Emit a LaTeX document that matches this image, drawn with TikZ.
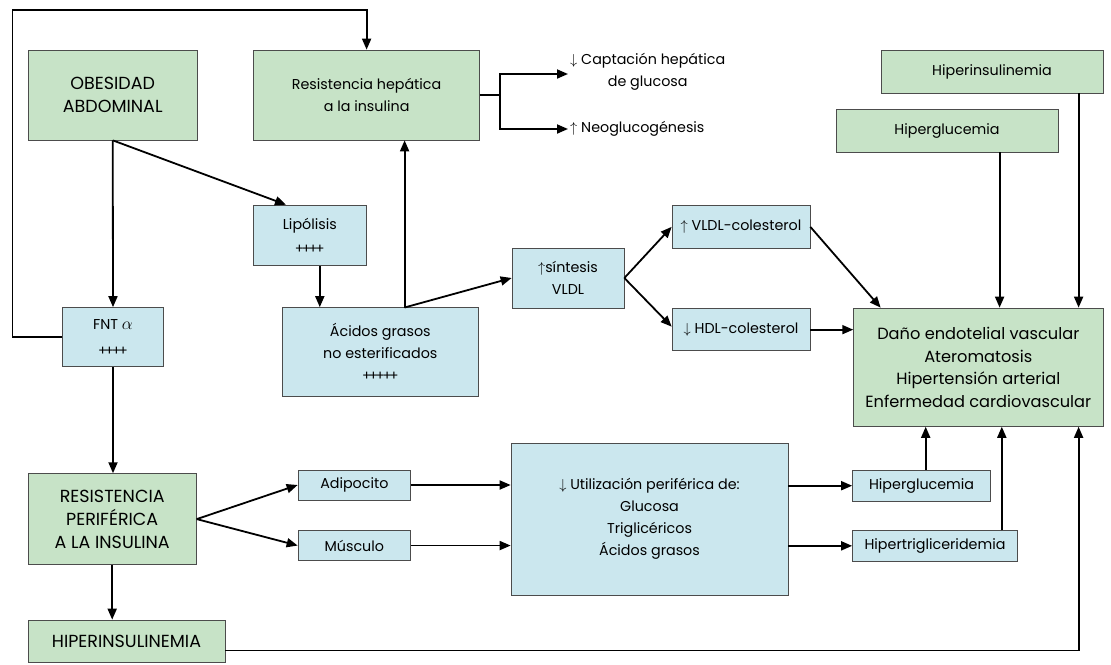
\documentclass[tikz,border=0pt]{standalone}
\usepackage{fontspec}
\setmainfont{Poppins}
\usetikzlibrary{arrows.meta}
\definecolor{gfill}{RGB}{199,227,199}
\definecolor{bfill}{RGB}{203,231,238}
\newcommand\pk{\kern-2.4pt}
\newcommand\plusrowfour{{\fontsize{13.5}{14}\selectfont +\pk+\pk+\pk+}}
\newcommand\plusrowfive{{\fontsize{13.5}{14}\selectfont +\pk+\pk+\pk+\pk+}}
\begin{document}
\begin{tikzpicture}[x=1pt,y=-1pt,
  font=\fontsize{14.3}{22}\selectfont,
  caps/.style={font=\fontsize{17.5}{23}\selectfont},
  box/.style={draw=black!70, line width=0.7pt, inner sep=0pt, align=center, anchor=center},
  gb/.style={box, fill=gfill},
  bb/.style={box, fill=bfill},
  ln/.style={line width=1.8pt},
  arr/.style={line width=1.8pt, -{Triangle[length=11pt,width=9pt]}}]
\fill[white] (0,0) rectangle (1111,664);
\useasboundingbox (0,0) rectangle (1111,664);

% top row
\node[gb, caps, minimum width=169.5pt, minimum height=90pt] (obes) at (112.75,95) {OBESIDAD\\ABDOMINAL};
\node[gb, minimum width=226pt, minimum height=90pt] (resh) at (366.6,95) {Resistencia hepática\\a la insulina};
\node[align=center, anchor=west, inner sep=2pt] (capt) at (568,72) {$\downarrow$ Captación hepática\\de glucosa};
\node[anchor=west, inner sep=2pt] (neo) at (568,129) {$\uparrow$ Neoglucogénesis};
\node[gb, minimum width=222pt, minimum height=43pt] (hinst) at (992,71.5) {Hiperinsulinemia};
\node[gb, minimum width=222pt, minimum height=43pt] (hglut) at (947,130.5) {Hiperglucemia};

% middle
\node[bb, minimum width=112.4pt, minimum height=60.7pt, font=\fontsize{14.3}{24}\selectfont] (lip) at (309.8,235.4) {Lipólisis\\\plusrowfour};
\node[bb, minimum width=101pt, minimum height=59.3pt, font=\fontsize{14.3}{26}\selectfont] (fnt) at (113,337.15) {FNT {\fontsize{19}{22}\selectfont$\alpha$}\\\plusrowfour};
\node[bb, minimum width=196.6pt, minimum height=89.3pt] (acid) at (380.3,352.15) {Ácidos grasos\\no esterificados\\\plusrowfive};
\node[bb, minimum width=112pt, minimum height=60pt] (sint) at (568,278) {$\uparrow$síntesis\\VLDL};
\node[bb, minimum width=138pt, minimum height=42.3pt] (vldl) at (741,226.85) {$\uparrow$ VLDL-colesterol};
\node[bb, minimum width=138pt, minimum height=42pt] (hdl) at (741,329.65) {$\downarrow$ HDL-colesterol};
\node[gb, minimum width=249.4pt, minimum height=118.4pt, font=\fontsize{16.2}{22.5}\selectfont] (dano) at (978.3,367.2) {Daño endotelial vascular\\Ateromatosis\\Hipertensión arterial\\Enfermedad cardiovascular};

% bottom
\node[gb, caps, minimum width=168.4pt, minimum height=91pt] (rp) at (112.2,519.1) {RESISTENCIA\\PERIFÉRICA\\A LA INSULINA};
\node[bb, minimum width=112.7pt, minimum height=30pt] (adip) at (354.35,485) {Adipocito};
\node[bb, minimum width=112.7pt, minimum height=29.7pt] (musc) at (354.35,545.55) {Músculo};
\node[bb, minimum width=277pt, minimum height=152pt] (util) at (649.5,519) {$\downarrow$ Utilización periférica de:\\Glucosa\\Triglicéricos\\Ácidos grasos};
\node[bb, minimum width=138.2pt, minimum height=31.4pt] (hglub) at (921.6,485.7) {Hiperglucemia};
\node[bb, minimum width=165pt, minimum height=30.3pt] (htrig) at (935,545.85) {Hipertrigliceridemia};
\node[gb, caps, minimum width=197pt, minimum height=42pt] (hinsb) at (126.5,641) {HIPERINSULINEMIA};

% coordinates
\coordinate (ctl) at (12.5,10);
\coordinate (fk) at (500,95);
\coordinate (aup) at (404.6,307.5);

% connectors
\draw[arr] (fnt.west) -| (ctl) -| (resh.north);
\draw[arr] (obes.south) -- (fnt.north);
\draw[arr] (obes.south) -- ([xshift=-23.8pt]lip.north);
\draw[arr] ([xshift=10pt]lip.south) -- ([xshift=10pt]lip.south |- acid.north);
\draw[arr] (aup) -- (aup |- resh.south);
\draw[arr] (aup) -- (sint.west);
\draw[ln] (resh.east) -- (fk);
\draw[arr] (fk) |- ([yshift=-2pt]capt.west);
\draw[arr] (fk) |- (neo.west);
\draw[arr] (sint.east) -- (vldl.west);
\draw[arr] (sint.east) -- ([yshift=3pt]hdl.west);
\draw[arr] (vldl.east) -- ([xshift=27.4pt]dano.north west);
\draw[arr] (hdl.east) -- (hdl.east -| dano.west);
\draw[arr] ([xshift=52.6pt]hglut.south) -- ([xshift=52.6pt]hglut.south |- dano.north);
\draw[arr] ([xshift=86.6pt]hinst.south) -- ([xshift=86.6pt]hinst.south |- dano.north);
\draw[arr] (fnt.south) -- (fnt.south |- rp.north);
\draw[arr] (rp.south) -- (rp.south |- hinsb.north);
\draw[arr] (rp.east) -- (adip.west);
\draw[arr] (rp.east) -- (musc.west);
\draw[arr] (adip.east) -- (adip.east -| util.west);
\draw[arr] (musc.east) -- (musc.east -| util.west);
\draw[arr] (hglub.west -| util.east) -- (hglub.west);
\draw[arr] (htrig.west -| util.east) -- (htrig.west);
\draw[arr] ([xshift=4.1pt]hglub.north) -- ([xshift=4.1pt]hglub.north |- dano.south);
\draw[arr] ([xshift=66.8pt]htrig.north) -- ([xshift=66.8pt]htrig.north |- dano.south);
\draw[arr] ([yshift=-9.4pt]hinsb.east) -| ([xshift=100.3pt]dano.south);
\end{tikzpicture}
\end{document}
